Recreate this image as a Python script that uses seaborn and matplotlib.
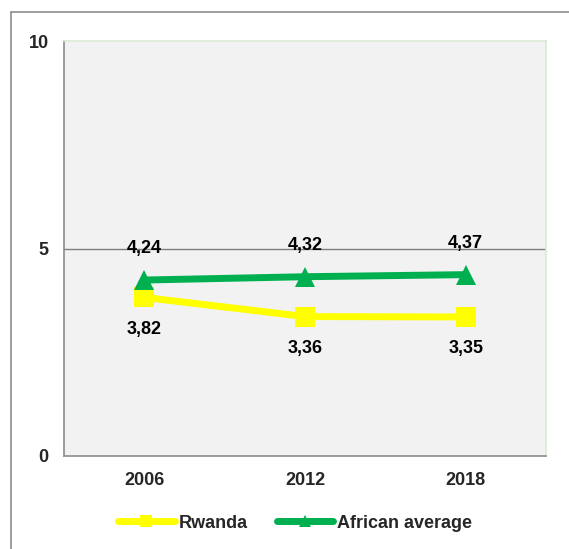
import matplotlib
matplotlib.use("Agg")
import matplotlib.pyplot as plt
from matplotlib.lines import Line2D
import seaborn as sns
import pandas as pd

years = ["2006", "2012", "2018"]
rwanda = [3.82, 3.36, 3.35]
african_average = [4.24, 4.32, 4.37]
series_names = ["Rwanda", "African average"]
y_ticks = [0, 5, 10]

sns.set_theme(style="white")
plt.rcParams["font.family"] = ["Liberation Sans", "DejaVu Sans"]

df = pd.DataFrame({
    "pos": list(range(len(years))) * 2,
    "value": rwanda + african_average,
    "series": [series_names[0]] * len(years) + [series_names[1]] * len(years),
})

colors = {"Rwanda": "#FFFF00", "African average": "#00B050"}
markers = {"Rwanda": "s", "African average": "^"}
FS = 13

fig = plt.figure(figsize=(5.69, 5.49), dpi=100)
ax = fig.add_axes([64 / 569, 1 - 456 / 549, 482 / 569, (456 - 41) / 549])
ax.set_facecolor("#F2F2F2")

sns.lineplot(data=df, x="pos", y="value", hue="series", style="series",
             palette=colors, markers=markers, dashes=False,
             linewidth=5, markersize=14, markeredgewidth=0,
             legend=False, ax=ax, zorder=3)

ax.set_xlim(-0.5, len(years) - 0.5)
ax.set_ylim(0, 10)
ax.set_xticks(range(len(years)))
ax.set_xticklabels(years, fontsize=FS, fontweight="bold")
ax.set_yticks(y_ticks)
ax.set_yticklabels([str(t) for t in y_ticks], fontsize=FS, fontweight="bold")
ax.tick_params(axis="x", length=0, pad=11.5)
ax.tick_params(axis="y", length=0, pad=11)
ax.set_xlabel("")
ax.set_ylabel("")

ax.axhline(5, color="#7F7F7F", linewidth=1, zorder=1)

for side in ["left", "bottom"]:
    ax.spines[side].set_color("#8C8C8C")
    ax.spines[side].set_linewidth(1.2)
for side in ["top", "right"]:
    ax.spines[side].set_color("#D9EAD3")
    ax.spines[side].set_linewidth(1.2)

def fmt(v):
    return f"{v:.2f}".replace(".", ",")

for i, v in enumerate(african_average):
    ax.annotate(fmt(v), (i, v), xytext=(0, 22.5), textcoords="offset points",
                ha="center", va="center", fontsize=FS, fontweight="bold", color="black")
for i, v in enumerate(rwanda):
    ax.annotate(fmt(v), (i, v), xytext=(0, -23), textcoords="offset points",
                ha="center", va="center", fontsize=FS, fontweight="bold", color="black")

handles = [Line2D([0], [0], color=colors[n], marker=markers[n], linewidth=5,
                  markersize=9, markeredgewidth=0) for n in series_names]
fig.legend(handles, series_names, loc="center", bbox_to_anchor=(0.5185, 1 - 523 / 549),
           ncol=2, frameon=False, handlelength=3.15, handletextpad=0.2,
           columnspacing=1.6, borderpad=0, prop={"size": FS, "weight": "bold"})

# outer chart frame
fig.add_artist(Line2D([11 / 569, 11 / 569], [0, 1 - 12 / 549], color="#8C8C8C",
                      linewidth=1.2, transform=fig.transFigure))
fig.add_artist(Line2D([11 / 569, 1], [1 - 12 / 549, 1 - 12 / 549], color="#8C8C8C",
                      linewidth=1.2, transform=fig.transFigure))

fig.savefig("out.png", dpi=100)
